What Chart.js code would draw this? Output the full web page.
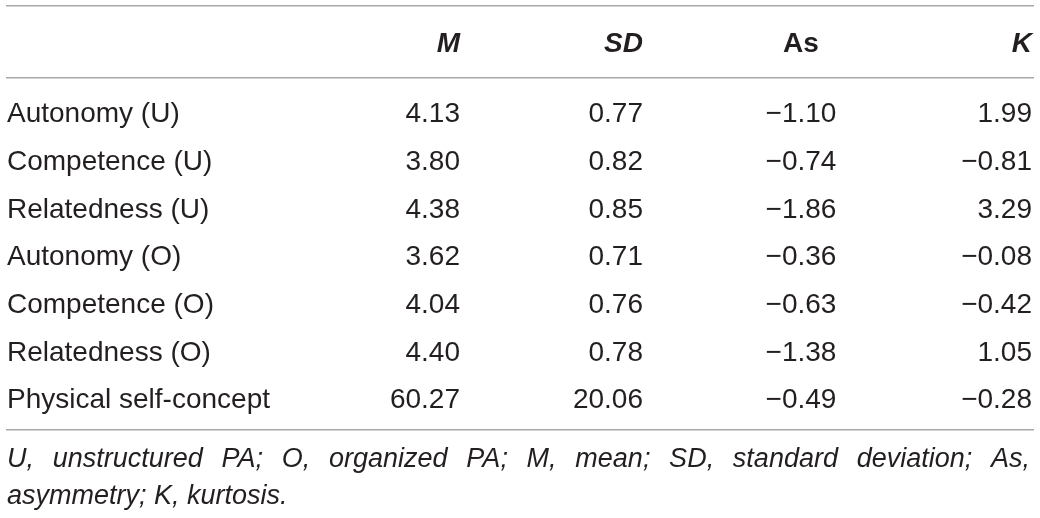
<!DOCTYPE html>
<html>
<head>
<meta charset="utf-8">
<script src="https://cdn.jsdelivr.net/npm/chart.js@4/dist/chart.umd.min.js"></script>
<style>
  html, body { margin: 0; padding: 0; background: #fff; }
  #wrap { width: 1040px; height: 518px; position: relative; }
</style>
</head>
<body>
<div id="wrap"><canvas id="tbl"></canvas></div>
<script>
// table data
const rowLabels = ['Autonomy (U)', 'Competence (U)', 'Relatedness (U)', 'Autonomy (O)', 'Competence (O)', 'Relatedness (O)', 'Physical self-concept']
const colHeaders = ['M', 'SD', 'As', 'K']
const meanVals = [4.13, 3.80, 4.38, 3.62, 4.04, 4.40, 60.27]
const sdVals = [0.77, 0.82, 0.85, 0.71, 0.76, 0.78, 20.06]
const asVals = [-1.10, -0.74, -1.86, -0.36, -0.63, -1.38, -0.49]
const kVals = [1.99, -0.81, 3.29, -0.08, -0.42, 1.05, -0.28]
const noteLines = ['U, unstructured PA; O, organized PA; M, mean; SD, standard deviation; As,', 'asymmetry; K, kurtosis.']

// layout (scale units), kept apart from the data
const colX = [1, 454, 637, 795, 1026]
const headerRow = -1.47
const ruleRows = [-2.44, -0.94, 6.46]
const noteRows = [7.23, 8.0]
const noteEnd = 1024

const FONT = '"Liberation Sans", Arial, Helvetica, sans-serif'
const INK = '#231f20'

function fmt(v) {
  return (v < 0 ? '\u2212' : '') + Math.abs(v).toFixed(2)
}

function column(vals, c) {
  return {
    data: vals.map((v, i) => ({ x: colX[c], y: i })),
    texts: vals.map(fmt),
    font: '28px ' + FONT,
    align: c === 3 ? 'center' : 'right'
  }
}

let datasets = [
  {
    data: rowLabels.map((t, i) => ({ x: colX[0], y: i })),
    texts: rowLabels,
    font: '28px ' + FONT,
    align: 'left'
  },
  column(meanVals, 1),
  column(sdVals, 2),
  column(asVals, 3),
  column(kVals, 4),
  {
    data: colHeaders.map((t, i) => ({ x: colX[i + 1], y: headerRow })),
    texts: colHeaders,
    fonts: ['italic bold 28px ' + FONT, 'italic bold 28px ' + FONT, 'bold 28px ' + FONT, 'italic bold 28px ' + FONT],
    aligns: ['right', 'right', 'center', 'right'],
    font: 'bold 28px ' + FONT,
    align: 'right'
  },
  {
    data: noteLines.map((t, i) => ({ x: colX[0], y: noteRows[i] })),
    texts: noteLines,
    font: 'italic 27px ' + FONT,
    align: 'left',
    justify: [true, false]
  }
]

datasets.forEach(d => {
  d.pointRadius = 0
  d.showLine = false
})

// draws the cell texts where the scales put each point
const cellText = {
  id: 'cellText',
  afterDatasetsDraw(chart) {
    const ctx = chart.ctx
    const endPx = chart.scales.x.getPixelForValue(noteEnd)
    chart.data.datasets.forEach((ds, i) => {
      const meta = chart.getDatasetMeta(i)
      meta.data.forEach((pt, j) => {
        const txt = ds.texts[j]
        ctx.save()
        ctx.font = ds.fonts ? ds.fonts[j] : ds.font
        ctx.textAlign = ds.aligns ? ds.aligns[j] : ds.align
        ctx.textBaseline = 'alphabetic'
        ctx.fillStyle = INK
        if (ds.justify && ds.justify[j]) {
          let words = txt.split(' ')
          let widths = words.map(w => ctx.measureText(w).width)
          let total = widths.reduce((a, b) => a + b, 0)
          let gap = (endPx - pt.x - total) / (words.length - 1)
          let x = pt.x
          ctx.textAlign = 'left'
          words.forEach((w, k) => {
            ctx.fillText(w, x, pt.y)
            x += widths[k] + gap
          })
        } else {
          ctx.fillText(txt, pt.x, pt.y)
        }
        ctx.restore()
      })
    })
  }
}

new Chart('tbl', {
  type: 'scatter',
  data: { datasets: datasets },
  options: {
    responsive: true,
    maintainAspectRatio: false,
    animation: false,
    events: [],
    layout: { padding: { left: 6, right: 6, top: 0, bottom: 0 } },
    plugins: {
      legend: { display: false },
      tooltip: { enabled: false }
    },
    scales: {
      x: { type: 'linear', display: false, min: 0, max: 1028 },
      y: {
        type: 'linear',
        reverse: true,
        min: -2.56,
        max: 8.30,
        afterBuildTicks: axis => { axis.ticks = ruleRows.map(v => ({ value: v })) },
        ticks: { display: false },
        grid: { color: '#a8a8a8', lineWidth: 1.5, drawTicks: false },
        border: { display: false }
      }
    }
  },
  plugins: [cellText]
})
</script>
</body>
</html>
